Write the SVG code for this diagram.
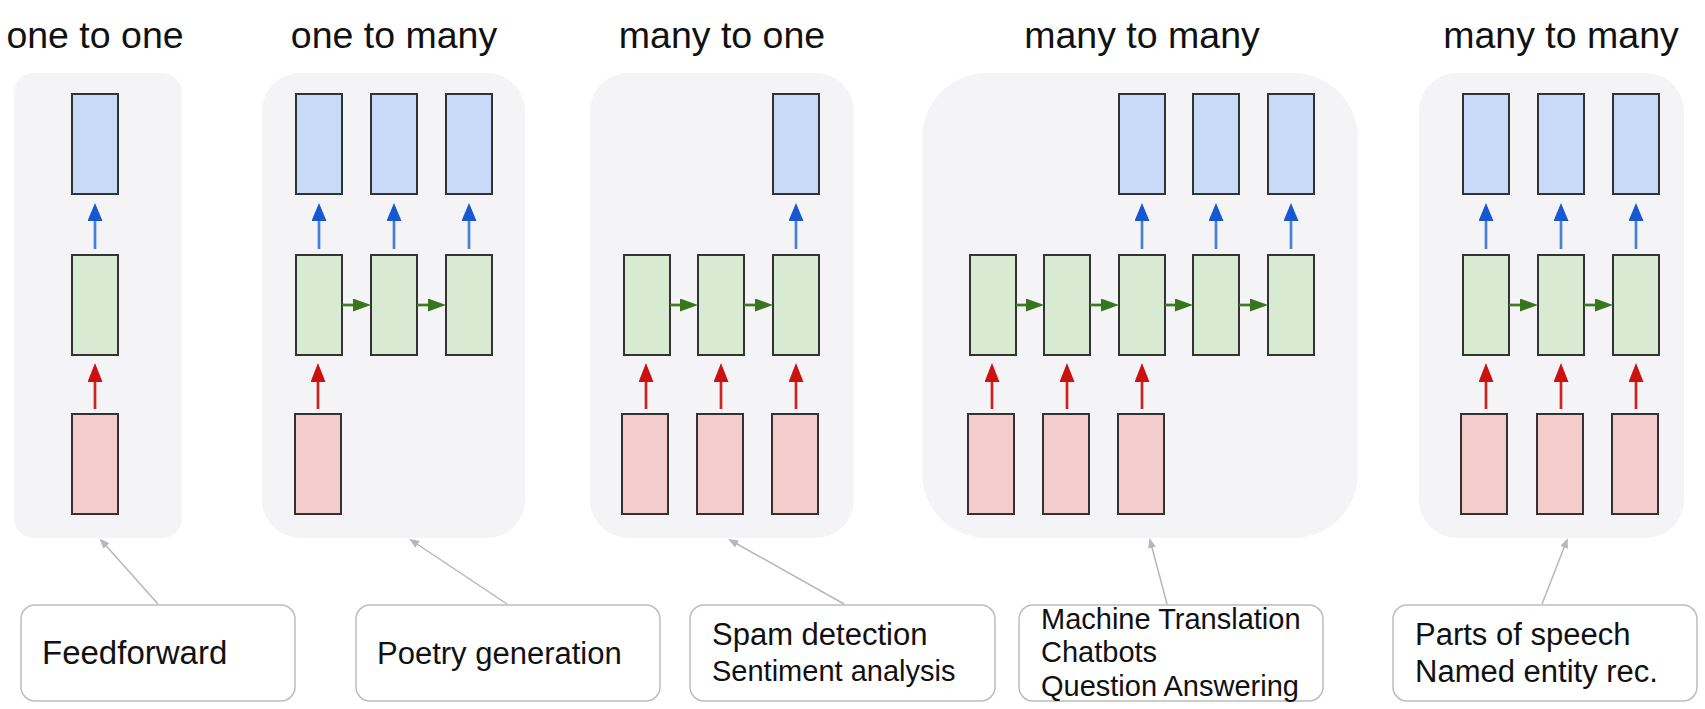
<svg xmlns="http://www.w3.org/2000/svg" width="1705" height="709" viewBox="0 0 1705 709">
<style>
.title{font-family:"Liberation Sans",Arial,sans-serif;font-size:37.5px;fill:#111;text-anchor:middle}
.panel{fill:#f4f4f6}
.b{fill:#c9daf8;stroke:#333;stroke-width:2}
.g{fill:#d9ead3;stroke:#333;stroke-width:2}
.r{fill:#f4cccc;stroke:#333;stroke-width:2}
.lbl{fill:#fff;stroke:#bdbdbd;stroke-width:1.5}
.t33{font-family:"Liberation Sans",Arial,sans-serif;font-size:33px;fill:#111}
.t31{font-family:"Liberation Sans",Arial,sans-serif;font-size:31px;fill:#111}
.t29{font-family:"Liberation Sans",Arial,sans-serif;font-size:29px;fill:#111}
.ab{stroke:#4a7fd6;stroke-width:2.7;fill:none;marker-end:url(#mb)}
.ar{stroke:#cc2222;stroke-width:2.7;fill:none;marker-end:url(#mr)}
.ag{stroke:#3d7a24;stroke-width:2.7;fill:none;marker-end:url(#mg)}
.ac{stroke:#b7b7b7;stroke-width:1.5;fill:none;marker-end:url(#mc)}
</style>
<defs>
<marker id="mb" markerUnits="userSpaceOnUse" markerWidth="20" markerHeight="16" refX="8" refY="7.5" orient="auto"><path d="M0,0 L18,7.5 L0,15 z" fill="#1558d0"/></marker>
<marker id="mr" markerUnits="userSpaceOnUse" markerWidth="21" markerHeight="16" refX="9" refY="7.5" orient="auto"><path d="M0,0 L19,7.5 L0,15 z" fill="#cc1111"/></marker>
<marker id="mg" markerUnits="userSpaceOnUse" markerWidth="20" markerHeight="14" refX="8" refY="6.5" orient="auto"><path d="M0,0 L18,6.5 L0,13 z" fill="#38761d"/></marker>
<marker id="mc" markerUnits="userSpaceOnUse" markerWidth="12" markerHeight="9" refX="8" refY="4" orient="auto"><path d="M0,0 L10,4 L0,8 z" fill="#b7b7b7"/></marker>
</defs>

<g id="titles">
<text class="title" x="95" y="48">one to one</text>
<text class="title" x="394" y="48">one to many</text>
<text class="title" x="722" y="48">many to one</text>
<text class="title" x="1142" y="48">many to many</text>
<text class="title" x="1561" y="48">many to many</text>
</g>

<g id="panel-one-to-one">
<rect class="panel" x="14" y="73" width="168" height="465" rx="20"/>
<rect class="b" x="72" y="94" width="46" height="100"/>
<rect class="g" x="72" y="255" width="46" height="100"/>
<rect class="r" x="72" y="414" width="46" height="100"/>
</g>

<g id="panel-one-to-many">
<rect class="panel" x="262" y="73" width="263" height="465" rx="38"/>
<rect class="b" x="296" y="94" width="46" height="100"/>
<rect class="b" x="371" y="94" width="46" height="100"/>
<rect class="b" x="446" y="94" width="46" height="100"/>
<rect class="g" x="296" y="255" width="46" height="100"/>
<rect class="g" x="371" y="255" width="46" height="100"/>
<rect class="g" x="446" y="255" width="46" height="100"/>
<rect class="r" x="295" y="414" width="46" height="100"/>
</g>

<g id="panel-many-to-one">
<rect class="panel" x="590" y="73" width="264" height="465" rx="38"/>
<rect class="b" x="773" y="94" width="46" height="100"/>
<rect class="g" x="624" y="255" width="46" height="100"/>
<rect class="g" x="698" y="255" width="46" height="100"/>
<rect class="g" x="773" y="255" width="46" height="100"/>
<rect class="r" x="622" y="414" width="46" height="100"/>
<rect class="r" x="697" y="414" width="46" height="100"/>
<rect class="r" x="772" y="414" width="46" height="100"/>
</g>

<g id="panel-many-to-many-1">
<rect class="panel" x="922" y="73" width="436" height="465" rx="65"/>
<rect class="b" x="1119" y="94" width="46" height="100"/>
<rect class="b" x="1193" y="94" width="46" height="100"/>
<rect class="b" x="1268" y="94" width="46" height="100"/>
<rect class="g" x="970" y="255" width="46" height="100"/>
<rect class="g" x="1044" y="255" width="46" height="100"/>
<rect class="g" x="1119" y="255" width="46" height="100"/>
<rect class="g" x="1193" y="255" width="46" height="100"/>
<rect class="g" x="1268" y="255" width="46" height="100"/>
<rect class="r" x="968" y="414" width="46" height="100"/>
<rect class="r" x="1043" y="414" width="46" height="100"/>
<rect class="r" x="1118" y="414" width="46" height="100"/>
</g>

<g id="panel-many-to-many-2">
<rect class="panel" x="1419" y="73" width="265" height="465" rx="38"/>
<rect class="b" x="1463" y="94" width="46" height="100"/>
<rect class="b" x="1538" y="94" width="46" height="100"/>
<rect class="b" x="1613" y="94" width="46" height="100"/>
<rect class="g" x="1463" y="255" width="46" height="100"/>
<rect class="g" x="1538" y="255" width="46" height="100"/>
<rect class="g" x="1613" y="255" width="46" height="100"/>
<rect class="r" x="1461" y="414" width="46" height="100"/>
<rect class="r" x="1537" y="414" width="46" height="100"/>
<rect class="r" x="1612" y="414" width="46" height="100"/>
</g>

<g id="label-feedforward">
<rect class="lbl" x="21" y="605" width="274" height="96" rx="14"/>
<text class="t33" x="42" y="664">Feedforward</text>
</g>
<g id="label-poetry">
<rect class="lbl" x="356" y="605" width="304" height="96" rx="14"/>
<text class="t31" x="377" y="664">Poetry generation</text>
</g>
<g id="label-spam">
<rect class="lbl" x="690" y="605" width="305" height="96" rx="14"/>
<text class="t31" x="712" y="645">Spam detection</text>
<text class="t29" x="712" y="681">Sentiment analysis</text>
</g>
<g id="label-mt">
<rect class="lbl" x="1019" y="605" width="304" height="96" rx="14"/>
<text class="t29" x="1041" y="629">Machine Translation</text>
<text class="t29" x="1041" y="662">Chatbots</text>
<text class="t29" x="1041" y="696">Question Answering</text>
</g>
<g id="label-pos">
<rect class="lbl" x="1393" y="605" width="304" height="96" rx="14"/>
<text class="t31" x="1415" y="645">Parts of speech</text>
<text class="t31" x="1415" y="682">Named entity rec.</text>
</g>

<g id="connectors">
<!-- blue up arrows -->
<path class="ab" d="M95,249 V213"/>
<path class="ab" d="M319,249 V213"/>
<path class="ab" d="M394,249 V213"/>
<path class="ab" d="M469,249 V213"/>
<path class="ab" d="M796,249 V213"/>
<path class="ab" d="M1142,249 V213"/>
<path class="ab" d="M1216,249 V213"/>
<path class="ab" d="M1291,249 V213"/>
<path class="ab" d="M1486,249 V213"/>
<path class="ab" d="M1561,249 V213"/>
<path class="ab" d="M1636,249 V213"/>
<!-- red up arrows -->
<path class="ar" d="M95,409 V373"/>
<path class="ar" d="M318,409 V373"/>
<path class="ar" d="M646,409 V373"/>
<path class="ar" d="M721,409 V373"/>
<path class="ar" d="M796,409 V373"/>
<path class="ar" d="M992,409 V373"/>
<path class="ar" d="M1067,409 V373"/>
<path class="ar" d="M1142,409 V373"/>
<path class="ar" d="M1486,409 V373"/>
<path class="ar" d="M1561,409 V373"/>
<path class="ar" d="M1636,409 V373"/>
<!-- green recurrent arrows -->
<path class="ag" d="M342,305 H361"/>
<path class="ag" d="M417,305 H436"/>
<path class="ag" d="M670,305 H688"/>
<path class="ag" d="M744,305 H763"/>
<path class="ag" d="M1016,305 H1034"/>
<path class="ag" d="M1090,305 H1109"/>
<path class="ag" d="M1165,305 H1183"/>
<path class="ag" d="M1239,305 H1258"/>
<path class="ag" d="M1509,305 H1528"/>
<path class="ag" d="M1584,305 H1603"/>
<!-- gray callouts -->
<path class="ac" d="M158,604 L101,540"/>
<path class="ac" d="M507,604 L411,540"/>
<path class="ac" d="M844,604 L730,540"/>
<path class="ac" d="M1167,604 L1150,540"/>
<path class="ac" d="M1542,604 L1567,540"/>
</g>
</svg>
